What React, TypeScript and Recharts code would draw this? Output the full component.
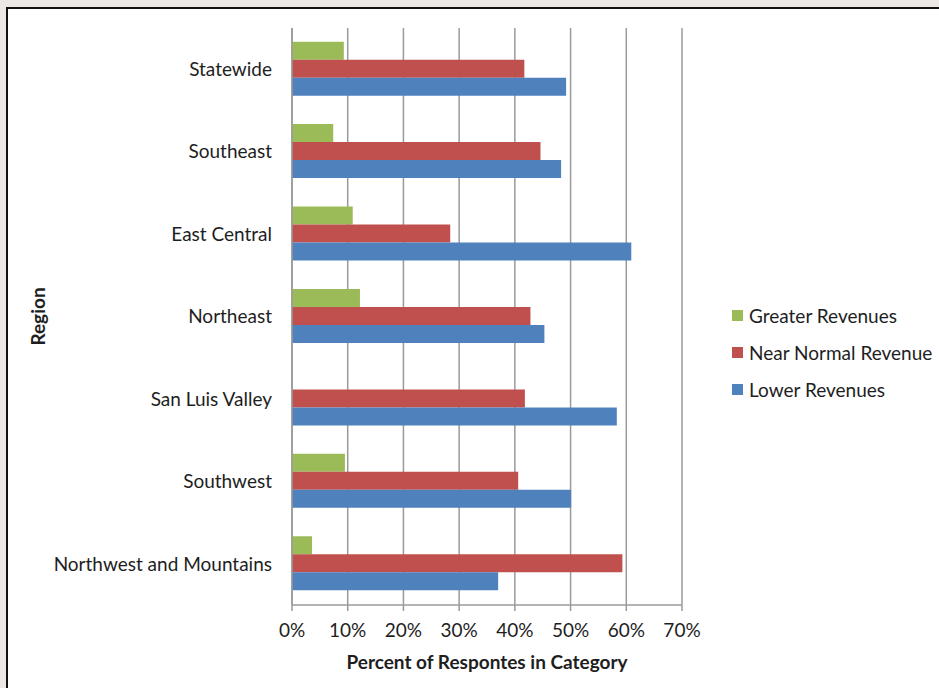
import { Bar, BarChart, CartesianGrid, XAxis, YAxis } from "recharts";

const regions = [
  "Statewide",
  "Southeast",
  "East Central",
  "Northeast",
  "San Luis Valley",
  "Southwest",
  "Northwest and Mountains",
];
const greaterRevenues = [9.3, 7.4, 10.9, 12.2, 0, 9.5, 3.6];
const nearNormalRevenue = [41.7, 44.6, 28.4, 42.8, 41.8, 40.6, 59.3];
const lowerRevenues = [49.2, 48.3, 60.9, 45.3, 58.3, 50.1, 37.0];
const xTicks = [0, 10, 20, 30, 40, 50, 60, 70];

const series = [
  { key: "greater", name: "Greater Revenues", color: "#9bbb59" },
  { key: "nearNormal", name: "Near Normal Revenue", color: "#c0504d" },
  { key: "lower", name: "Lower Revenues", color: "#4f81bd" },
];

const data = regions.map((region, i) => ({
  region,
  greater: greaterRevenues[i],
  nearNormal: nearNormalRevenue[i],
  lower: lowerRevenues[i],
}));

const font = "Lato, 'Open Sans', sans-serif";
const textColor = "#1e1e1e";

export default function App() {
  return (
    <div style={{ position: "relative", width: 939, height: 688, background: "#ece9e4", overflow: "hidden", fontFamily: font }}>
      <style>{`body{margin:0}`}</style>
      <div
        style={{
          position: "absolute",
          left: 6,
          top: 7,
          width: 960,
          height: 700,
          background: "#fff",
          borderLeft: "2px solid #111",
          borderTop: "2px solid #111",
        }}
      />
      <div style={{ position: "absolute", left: 0, top: 0 }}>
        <BarChart
          width={939}
          height={688}
          data={data}
          layout="vertical"
          margin={{ top: 28, right: 257, bottom: 0, left: 0 }}
          barCategoryGap="16.6%"
          barGap={0}
        >
          <CartesianGrid horizontal={false} stroke="#9a9a9a" strokeWidth={1.5} />
          <XAxis
            type="number"
            domain={[0, 70]}
            ticks={xTicks}
            tickFormatter={(v) => `${v}%`}
            height={83}
            tickSize={6}
            tickMargin={13}
            axisLine={{ stroke: "#9a9a9a", strokeWidth: 1.5 }}
            tickLine={{ stroke: "#9a9a9a", strokeWidth: 1.5 }}
            tick={{ fill: textColor, fontSize: 19, fontFamily: font }}
            label={{
              value: "Percent of Respontes in Category",
              position: "insideBottom",
              offset: 19,
              style: { fill: textColor, fontSize: 19, fontWeight: 700, fontFamily: font },
            }}
          />
          <YAxis
            type="category"
            dataKey="region"
            width={292}
            tickLine={false}
            tickSize={6}
            tickMargin={14}
            axisLine={{ stroke: "#9a9a9a", strokeWidth: 1.5 }}
            tick={{ fill: textColor, fontSize: 19, fontFamily: font }}
            label={{
              value: "Region",
              angle: -90,
              position: "insideLeft",
              offset: 38,
              style: { fill: textColor, fontSize: 19, fontWeight: 700, fontFamily: font, textAnchor: "middle" },
            }}
          />
          {series.map((s) => (
            <Bar key={s.key} dataKey={s.key} name={s.name} fill={s.color} isAnimationActive={false} />
          ))}
        </BarChart>
      </div>
      <div style={{ position: "absolute", left: 732, top: 297 }}>
        {series.map((s) => (
          <div key={s.key} style={{ display: "flex", alignItems: "center", height: 37 }}>
            <span style={{ width: 11, height: 11, background: s.color, marginRight: 6 }} />
            <span style={{ fontSize: 19, color: textColor }}>{s.name}</span>
          </div>
        ))}
      </div>
    </div>
  );
}
